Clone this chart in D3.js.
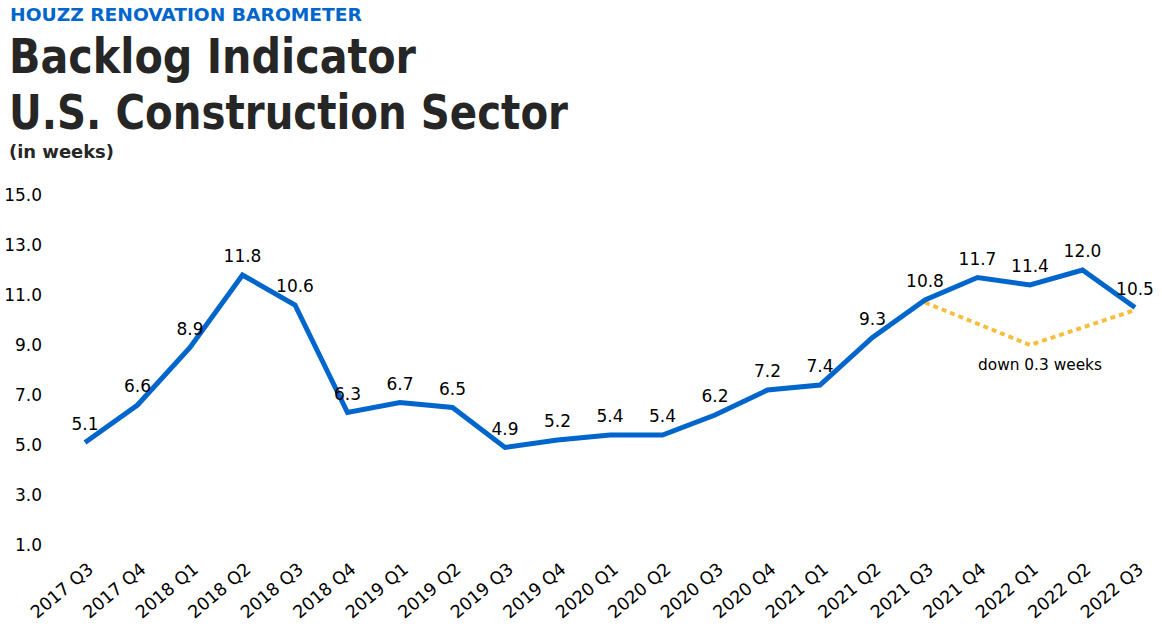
<!DOCTYPE html>
<html>
<head>
<meta charset="utf-8">
<script src="https://cdn.jsdelivr.net/npm/d3@7"></script>
<style>
body { margin: 0; background: #fff; }
svg { display: block; font-family: "DejaVu Sans", sans-serif; }
.title { font-family: "DejaVu Sans Condensed", "DejaVu Sans", sans-serif; }
</style>
</head>
<body>
<div id="chart"></div>
<script>
// Data
const quarters = ['2017 Q3','2017 Q4','2018 Q1','2018 Q2','2018 Q3','2018 Q4','2019 Q1','2019 Q2','2019 Q3','2019 Q4',
	'2020 Q1','2020 Q2','2020 Q3','2020 Q4','2021 Q1','2021 Q2','2021 Q3','2021 Q4','2022 Q1','2022 Q2','2022 Q3'];
const backlog = [5.1, 6.6, 8.9, 11.8, 10.6, 6.3, 6.7, 6.5, 4.9, 5.2, 5.4, 5.4, 6.2, 7.2, 7.4, 9.3, 10.8, 11.7, 11.4, 12.0, 10.5];
const yTicks = [1, 3, 5, 7, 9, 11, 13, 15];
// year-over-year callout (2021 Q3 -> 2022 Q3)
const calloutQuarters = ['2021 Q3', '2022 Q1', '2022 Q3'];
const calloutValues = [10.7, 9.0, 10.4];
const calloutText = 'down 0.3 weeks';

const w = 1162, h = 626;
const font = '"DejaVu Sans", sans-serif';
const svg = d3.select('#chart').append('svg').attr('width', w).attr('height', h);

//Scales
const x = d3.scalePoint().domain(quarters).range([85, 1135]);
const y = d3.scaleLinear().domain([1, 15]).range([545, 195]);

//Titles
svg.append('text').attr('class', 'title').attr('x', 10).attr('y', 21)
	.style('font-size', '18px').style('font-weight', 'bold').style('fill', '#0066CC')
	.attr('textLength', 352).attr('lengthAdjust', 'spacingAndGlyphs')
	.text('HOUZZ RENOVATION BAROMETER');
svg.append('text').attr('class', 'title').attr('x', 9).attr('y', 73)
	.style('font-size', '48px').style('font-weight', 'bold').style('fill', '#262626')
	.attr('textLength', 407).attr('lengthAdjust', 'spacingAndGlyphs')
	.text('Backlog Indicator');
svg.append('text').attr('class', 'title').attr('x', 9).attr('y', 129)
	.style('font-size', '48px').style('font-weight', 'bold').style('fill', '#262626')
	.attr('textLength', 559).attr('lengthAdjust', 'spacingAndGlyphs')
	.text('U.S. Construction Sector');
svg.append('text').attr('class', 'title').attr('x', 9).attr('y', 158)
	.style('font-size', '17px').style('font-weight', 'bold').style('fill', '#262626')
	.attr('textLength', 105).attr('lengthAdjust', 'spacingAndGlyphs')
	.text('(in weeks)');

//Y axis (labels only)
const yAxis = svg.append('g').attr('transform', 'translate(42,0)')
	.call(d3.axisLeft(y).tickValues(yTicks).tickFormat(d3.format('.1f')).tickSize(0).tickPadding(0));
yAxis.select('.domain').remove();
yAxis.selectAll('text').style('font-size', '17px').style('fill', '#000').style('font-family', font);

//X axis (rotated labels)
const xAxis = svg.append('g').attr('transform', 'translate(0,560)')
	.call(d3.axisBottom(x).tickSize(0).tickPadding(0));
xAxis.select('.domain').remove();
xAxis.selectAll('text')
	.style('font-size', '17.5px').style('fill', '#000').style('font-family', font)
	.attr('text-anchor', 'end')
	.attr('dy', null).attr('y', 0)
	.attr('transform', 'translate(9,11) rotate(-40)');

//Callout dotted line
const callout = calloutQuarters.map((q, i) => ({q, v: calloutValues[i]}));
svg.append('path').datum(callout)
	.attr('d', d3.line().x(d => x(d.q)).y(d => y(d.v)))
	.style('fill', 'none').style('stroke', '#F7BE3E').style('stroke-width', 4)
	.style('stroke-dasharray', '5,4');
svg.append('text').attr('x', x(calloutQuarters[1]) + 10).attr('y', 370)
	.attr('text-anchor', 'middle').style('font-size', '15px').style('fill', '#000')
	.attr('textLength', 124).attr('lengthAdjust', 'spacingAndGlyphs')
	.text(calloutText);

//Main line
const series = quarters.map((q, i) => ({q, v: backlog[i]}));
svg.append('path').datum(series)
	.attr('d', d3.line().x(d => x(d.q)).y(d => y(d.v)))
	.style('fill', 'none').style('stroke', '#0066CC').style('stroke-width', 5)
	.style('stroke-linejoin', 'miter');

//Data labels
svg.selectAll('.label').data(series).enter()
	.append('text').attr('class', 'label')
	.attr('x', d => x(d.q))
	.attr('y', d => y(d.v) - 13)
	.attr('text-anchor', 'middle')
	.style('font-size', '17px').style('fill', '#000')
	.text(d => d3.format('.1f')(d.v));
</script>
</body>
</html>
